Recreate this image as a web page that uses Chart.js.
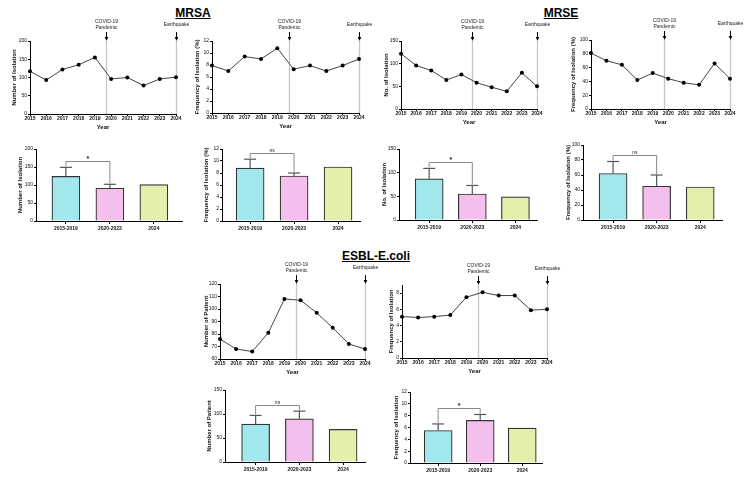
<!DOCTYPE html>
<html>
<head>
<meta charset="utf-8">
<script src="https://cdn.jsdelivr.net/npm/chart.js@4.4.0/dist/chart.umd.min.js"></script>
<style>
  body { margin: 0; background: #fff; width: 750px; height: 483px; position: relative; overflow: hidden;
         font-family: "Liberation Sans", Arial, sans-serif; }
  canvas { position: absolute; }
  .ttl { position: absolute; font-weight: bold; font-size: 12px; line-height: 12px; color: #000;
         text-decoration: underline; transform: translateX(-50%); white-space: nowrap; }
</style>
</head>
<body>
<div class="ttl" style="left:193px;top:7px">MRSA</div>
<div class="ttl" style="left:561px;top:7px">MRSE</div>
<div class="ttl" style="left:376px;top:250px">ESBL-E.coli</div>
<script>
// ── DATA ─────────────────────────────────────────────
const years = ['2015', '2016', '2017', '2018', '2019', '2020', '2021', '2022', '2023', '2024'];
const mrsaCount = [117, 93, 122, 135, 155, 96, 100, 78, 96, 101];
const mrsaFreq = [7.9, 7.0, 9.4, 9.0, 10.8, 7.3, 7.9, 7.0, 7.9, 9.0];
const mrseCount = [122, 96, 85, 64, 76, 58, 48, 39, 80, 50];
const mrseFreq = [81, 70, 64, 42, 52, 44, 38, 35, 66, 44];
const esblCount = [76, 68, 66, 81, 108, 107, 97, 85, 72, 68];
const esblFreq = [5.1, 5.0, 5.1, 5.3, 7.5, 8.1, 7.7, 7.7, 5.9, 6.0];

// events marked on the year axis (position on the year index)
const eventPos = [4.7, 9];
const eventLabels = [['COVID-19', 'Pandemic'], ['Earthquake']];

const periods = ['2015-2019', '2020-2023', '2024'];
const mrsaCountMean = [124, 91, 101];
const mrsaCountSD = [25, 11, 0];
const mrsaFreqMean = [8.8, 7.5, 9.0];
const mrsaFreqSD = [1.5, 0.5, 0];
const mrseCountMean = [87, 55, 49];
const mrseCountSD = [22, 18, 0];
const mrseFreqMean = [62, 45, 44];
const mrseFreqSD = [16, 15, 0];
const esblCountMean = [79, 90, 68];
const esblCountSD = [18, 16, 0];
const esblFreqMean = [5.5, 7.2, 5.9];
const esblFreqSD = [1.1, 1.0, 0];
const sigLabels = ['*', 'ns', '*', 'ns', 'ns', '*'];

const barColors = ['#a0e8ec', '#f4bfec', '#e6eeac'];

Chart.defaults.font.family = '"Liberation Sans", Arial, sans-serif';
Chart.defaults.color = '#111';

// canvas placed so the plot area lands on box.L..box.R / box.T..box.B
function makeCanvas(box, padT, padR, padB) {
  const left = box.tx - 4, top = box.T - padT;
  const c = document.createElement('canvas');
  c.width = box.R + padR - left;
  c.height = box.B + padB - top;
  c.style.left = left + 'px';
  c.style.top = top + 'px';
  document.body.appendChild(c);
  return { c, padL: box.L - left };
}

function yAxis(y, title, padL) {
  return {
    min: y.min, max: y.max,
    ticks: { stepSize: y.step, font: { size: 5 }, padding: 1, color: '#111' },
    grid: { drawOnChartArea: false, tickLength: 2, color: '#000' },
    border: { color: '#000', width: 1 },
    title: { display: true, text: title, color: '#111', font: { size: 6, weight: 'bold' }, padding: { top: 0.4, bottom: 0 } },
    afterFit: s => { s.width = padL; }
  };
}

function line(ctx, x1, y1, x2, y2) {
  ctx.beginPath(); ctx.moveTo(x1, y1); ctx.lineTo(x2, y2); ctx.stroke();
}

// COVID / earthquake markers
const eventMarks = {
  id: 'eventMarks',
  beforeDatasetsDraw(chart) {
    const { ctx, chartArea: a, scales: { x } } = chart;
    ctx.save();
    eventPos.forEach((p, i) => {
      const px = Math.round(x.getPixelForValue(p)) + 0.5;
      ctx.strokeStyle = '#c6c6c6'; ctx.lineWidth = 1.3;
      line(ctx, px, a.top, px, a.bottom);
      ctx.strokeStyle = '#000'; ctx.lineWidth = 1;
      line(ctx, px, a.top - 9, px, a.top - 3);
      ctx.fillStyle = '#000';
      ctx.beginPath();
      ctx.moveTo(px - 1.8, a.top - 4); ctx.lineTo(px + 1.8, a.top - 4); ctx.lineTo(px, a.top);
      ctx.closePath(); ctx.fill();
      ctx.fillStyle = '#222';
      ctx.font = '5px "Liberation Sans", Arial, sans-serif';
      ctx.textAlign = 'center'; ctx.textBaseline = 'middle';
      const lines = eventLabels[i];
      lines.forEach((t, k) => {
        ctx.fillText(t, px, a.top - 16 + (k - (lines.length - 1) / 2) * 6);
      });
    });
    ctx.restore();
  }
};

function lineChart(box, values, y, ytitle) {
  const g = makeCanvas(box, 24, 14, 17);
  new Chart(g.c, {
    type: 'line',
    data: {
      labels: years,
      datasets: [{
        data: values, borderColor: '#444', borderWidth: 1, clip: false,
        pointRadius: 2, pointBackgroundColor: '#000', pointBorderWidth: 0
      }]
    },
    options: {
      responsive: false, animation: false, events: [],
      layout: { padding: { top: 24, right: 14, left: 0, bottom: 0 }, autoPadding: false },
      plugins: { legend: { display: false }, tooltip: { enabled: false } },
      scales: {
        x: {
          offset: false,
          ticks: { font: { size: 5, weight: 'bold' }, padding: 0, maxRotation: 0, autoSkip: false, color: '#111' },
          grid: { drawOnChartArea: false, tickLength: 2, color: '#000', offset: false },
          border: { color: '#000', width: 1 },
          title: { display: true, text: 'Year', color: '#111', font: { size: 6, weight: 'bold' }, padding: 0 },
          afterFit: s => { s.height = 17; }
        },
        y: yAxis(y, ytitle, g.padL)
      }
    },
    plugins: [eventMarks]
  });
}

// error bars + significance bracket
function errorMarks(sds, sig) {
  return {
    id: 'errorMarks',
    afterDatasetsDraw(chart) {
      const { ctx, scales: { x, y } } = chart;
      const pts = chart.data.datasets[0].data;
      const tops = [], xs = [];
      ctx.save();
      ctx.strokeStyle = '#555'; ctx.lineWidth = 1.2;
      pts.forEach((p, i) => {
        const px = x.getPixelForValue(p.x);
        const yt = y.getPixelForValue(p.y + sds[i]);
        xs.push(px); tops.push(yt);
        if (!sds[i]) return;
        line(ctx, px, y.getPixelForValue(p.y), px, yt);
        line(ctx, px - 6, yt, px + 6, yt);
      });
      const by = Math.round(Math.min(tops[0], tops[1]) - 6) + 0.5;
      ctx.strokeStyle = '#888'; ctx.lineWidth = 1;
      ctx.beginPath();
      ctx.moveTo(xs[0], tops[0] - 1); ctx.lineTo(xs[0], by);
      ctx.lineTo(xs[1], by); ctx.lineTo(xs[1], tops[1] - 1);
      ctx.stroke();
      ctx.fillStyle = '#222';
      ctx.font = (sig === '*' ? 'bold 7px' : '5px') + ' "Liberation Sans", Arial, sans-serif';
      ctx.textAlign = 'center'; ctx.textBaseline = 'middle';
      ctx.fillText(sig, (xs[0] + xs[1]) / 2, by - (sig === '*' ? 2 : 3));
      ctx.restore();
    }
  };
}

function barChart(box, xr, means, sds, sig, y, ytitle) {
  const g = makeCanvas(box, 6, 6, 12);
  new Chart(g.c, {
    type: 'bar',
    data: {
      datasets: [{
        data: means.map((v, i) => ({ x: i, y: v })),
        backgroundColor: barColors, borderColor: '#333', borderWidth: 1.2,
        barThickness: 28, borderSkipped: 'start'
      }]
    },
    options: {
      responsive: false, animation: false, events: [],
      layout: { padding: { top: 6, right: 6, left: 0, bottom: 0 }, autoPadding: false },
      plugins: { legend: { display: false }, tooltip: { enabled: false } },
      scales: {
        x: {
          type: 'linear', min: xr[0], max: xr[1], offset: false, bounds: 'data',
          afterBuildTicks: s => { s.ticks = periods.map((_, i) => ({ value: i })); },
          ticks: { callback: v => periods[v], font: { size: 5, weight: 'bold' }, padding: 2, maxRotation: 0, autoSkip: false, color: '#111' },
          grid: { drawOnChartArea: false, tickLength: 3, color: '#000', offset: false },
          border: { color: '#000', width: 1 },
          afterFit: s => { s.height = 12; }
        },
        y: yAxis(y, ytitle, g.padL)
      }
    },
    plugins: [errorMarks(sds, sig)]
  });
}

// ── LINE CHARTS ──────────────────────────────────────
lineChart({ L: 30, T: 41, R: 176, B: 114, tx: 14 }, mrsaCount, { min: 0, max: 200, step: 50 }, 'Number of Isolation');
lineChart({ L: 212, T: 41, R: 359, B: 113, tx: 197 }, mrsaFreq, { min: 0, max: 12, step: 2 }, 'Frequency of Isolation (%)');
lineChart({ L: 401, T: 41, R: 537, B: 109, tx: 386 }, mrseCount, { min: 0, max: 150, step: 50 }, 'No. of Isolation');
lineChart({ L: 591, T: 40, R: 730, B: 109, tx: 573 }, mrseFreq, { min: 0, max: 100, step: 20 }, 'Frequency of Isolation (%)');
lineChart({ L: 220, T: 284, R: 365, B: 359, tx: 206 }, esblCount, { min: 60, max: 120, step: 10 }, 'Number of Patient');
lineChart({ L: 402, T: 285, R: 547, B: 358, tx: 391 }, esblFreq, { min: 0, max: 9, step: 1 }, 'Frequency of Isolation');

// ── BAR CHARTS ───────────────────────────────────────
barChart({ L: 36, T: 149, R: 182, B: 221, tx: 20 }, [-0.68, 2.64], mrsaCountMean, mrsaCountSD, sigLabels[0], { min: 0, max: 200, step: 50 }, 'Number of Isolation');
barChart({ L: 222, T: 149, R: 360, B: 221, tx: 206 }, [-0.64, 2.5], mrsaFreqMean, mrsaFreqSD, sigLabels[1], { min: 0, max: 12, step: 2 }, 'Frequency of Isolation (%)');
barChart({ L: 399, T: 149, R: 537, B: 220, tx: 384 }, [-0.70, 2.5], mrseCountMean, mrseCountSD, sigLabels[2], { min: 0, max: 150, step: 50 }, 'No. of Isolation');
barChart({ L: 583, T: 145, R: 722, B: 220, tx: 568 }, [-0.69, 2.5], mrseFreqMean, mrseFreqSD, sigLabels[3], { min: 0, max: 100, step: 20 }, 'Frequency of Isolation (%)');
barChart({ L: 225, T: 390, R: 365, B: 462, tx: 209 }, [-0.70, 2.5], esblCountMean, esblCountSD, sigLabels[4], { min: 0, max: 150, step: 50 }, 'Number of Patient');
barChart({ L: 410, T: 392, R: 542, B: 463, tx: 396 }, [-0.67, 2.47], esblFreqMean, esblFreqSD, sigLabels[5], { min: 0, max: 12, step: 2 }, 'Frequency of Isolation');
</script>
</body>
</html>
